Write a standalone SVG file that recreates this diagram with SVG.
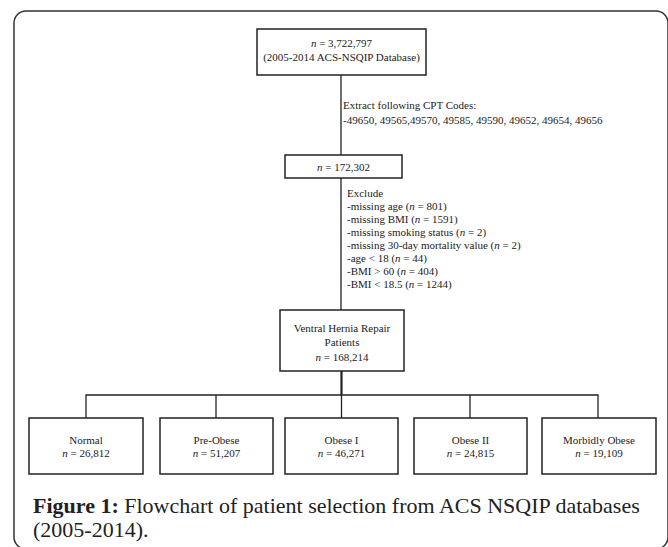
<svg xmlns="http://www.w3.org/2000/svg" width="668" height="547" viewBox="0 0 668 547">
<style>
.box{fill:#fff;stroke:#222;stroke-width:1.5}
.t{font-family:"Liberation Serif","Times New Roman",serif;font-size:11px;fill:#222}
.c{text-anchor:middle}
.ln{stroke:#222;stroke-width:1.3;fill:none}
.cap{font-family:"Liberation Serif","Times New Roman",serif;font-size:22px;fill:#222}
</style>
<rect x="0" y="0" width="668" height="547" fill="#fff"/>
<rect id="frame" x="14" y="11" width="654" height="538" rx="12" ry="12" fill="none" stroke="#333" stroke-width="1.5"/>
<g id="connectors">
<line class="ln" x1="341" y1="75" x2="341" y2="155"/>
<line class="ln" x1="341" y1="178" x2="341" y2="310"/>
<line class="ln" x1="341.5" y1="371" x2="341.5" y2="395" style="stroke-width:2.2"/>
<polyline class="ln" points="86,418 86,395 598,395 598,418"/>
<line class="ln" x1="216" y1="395" x2="216" y2="418"/>
<line class="ln" x1="341.5" y1="395" x2="341.5" y2="418"/>
<line class="ln" x1="470" y1="395" x2="470" y2="418"/>
</g>
<g id="n1">
<rect class="box" x="257" y="29" width="169" height="46"/>
<text class="t c" x="341.5" y="47"><tspan font-style="italic">n</tspan> = 3,722,797</text>
<text class="t c" x="341.5" y="61">(2005-2014 ACS-NSQIP Database)</text>
</g>
<g id="l1">
<text class="t" x="343" y="109">Extract following CPT Codes:</text>
<text class="t" x="343" y="124">-49650, 49565,49570, 49585, 49590, 49652, 49654, 49656</text>
</g>
<g id="n2">
<rect class="box" x="285" y="155" width="117" height="23"/>
<text class="t c" x="343.5" y="171"><tspan font-style="italic">n</tspan> = 172,302</text>
</g>
<g id="l2">
<text class="t" x="347" y="197">Exclude</text>
<text class="t" x="347" y="210">-missing age (<tspan font-style="italic">n</tspan> = 801)</text>
<text class="t" x="347" y="223">-missing BMI (<tspan font-style="italic">n</tspan> = 1591)</text>
<text class="t" x="347" y="236">-missing smoking status (<tspan font-style="italic">n</tspan> = 2)</text>
<text class="t" x="347" y="249">-missing 30-day mortality value (<tspan font-style="italic">n</tspan> = 2)</text>
<text class="t" x="347" y="262">-age &lt; 18 (<tspan font-style="italic">n</tspan> = 44)</text>
<text class="t" x="347" y="275">-BMI &gt; 60 (<tspan font-style="italic">n</tspan> = 404)</text>
<text class="t" x="347" y="288">-BMI &lt; 18.5 (<tspan font-style="italic">n</tspan> = 1244)</text>
</g>
<g id="n3">
<rect class="box" x="280" y="310" width="124" height="61"/>
<text class="t c" x="342" y="332">Ventral Hernia Repair</text>
<text class="t c" x="342" y="346">Patients</text>
<text class="t c" x="342" y="361"><tspan font-style="italic">n</tspan> = 168,214</text>
</g>
<g id="n4">
<rect class="box" x="29" y="418" width="114" height="56"/>
<text class="t c" x="86" y="444">Normal</text>
<text class="t c" x="86" y="457"><tspan font-style="italic">n</tspan> = 26,812</text>
</g>
<g id="n5">
<rect class="box" x="160" y="418" width="113" height="56"/>
<text class="t c" x="216.5" y="444">Pre-Obese</text>
<text class="t c" x="216.5" y="457"><tspan font-style="italic">n</tspan> = 51,207</text>
</g>
<g id="n6">
<rect class="box" x="285" y="418" width="113" height="56"/>
<text class="t c" x="341.5" y="444">Obese I</text>
<text class="t c" x="341.5" y="457"><tspan font-style="italic">n</tspan> = 46,271</text>
</g>
<g id="n7">
<rect class="box" x="414" y="418" width="113" height="56"/>
<text class="t c" x="470.5" y="444">Obese II</text>
<text class="t c" x="470.5" y="457"><tspan font-style="italic">n</tspan> = 24,815</text>
</g>
<g id="n8">
<rect class="box" x="542" y="418" width="114" height="56"/>
<text class="t c" x="599" y="444">Morbidly Obese</text>
<text class="t c" x="599" y="457"><tspan font-style="italic">n</tspan> = 19,109</text>
</g>
<g id="caption">
<text class="cap" x="33" y="513"><tspan font-weight="bold">Figure 1:</tspan> Flowchart of patient selection from ACS NSQIP databases</text>
<text class="cap" x="33" y="537">(2005-2014).</text>
</g>
</svg>
